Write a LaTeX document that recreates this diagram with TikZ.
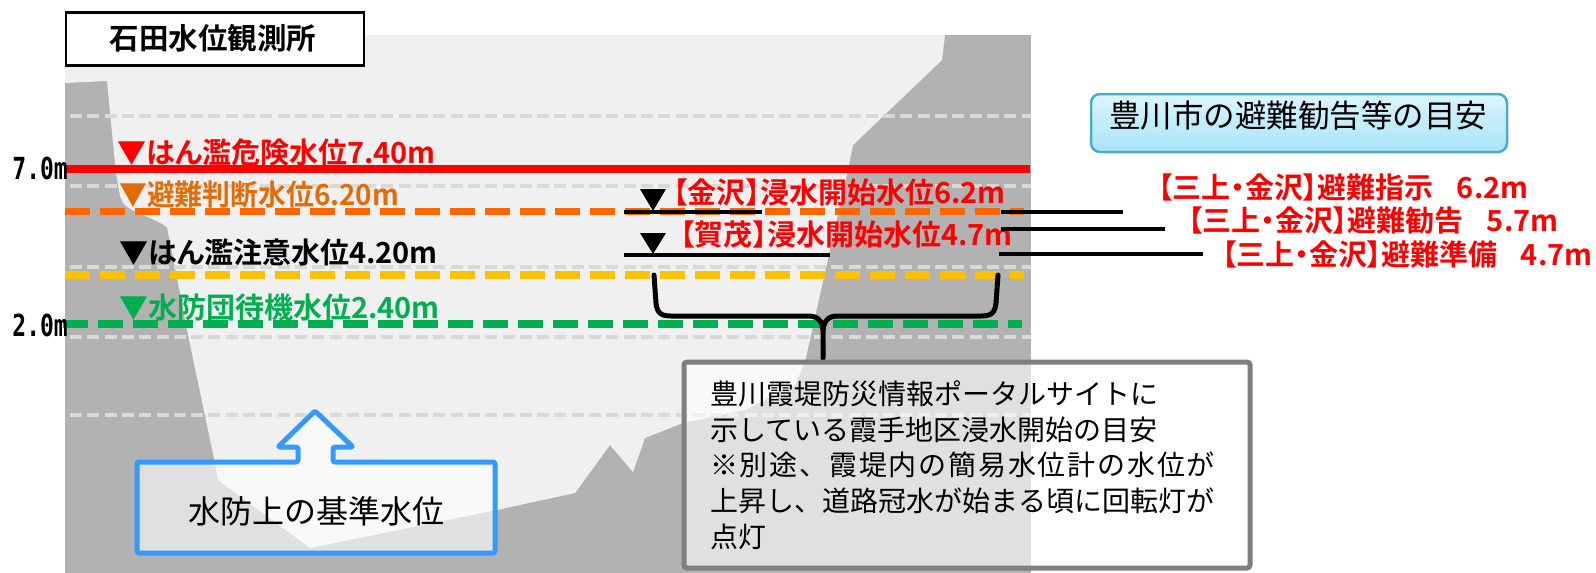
\documentclass[tikz,border=0pt]{standalone}
\usepackage{fontspec}
\newfontfamily\jpreg{Noto Sans CJK JP}
\newfontfamily\jpwide[LetterSpace=6.4]{Noto Sans CJK JP}
\newfontfamily\jpbold[RawFeature=+palt]{Noto Sans CJK JP Bold}
\newfontfamily\monofont{DejaVu Sans Mono Bold}
\definecolor{bankgray}{HTML}{B2B2B2}
\definecolor{watergray}{HTML}{F0F0F0}
\definecolor{guidegray}{HTML}{D9D9D9}
\definecolor{lvlred}{HTML}{FF0000}
\definecolor{lvlorange}{HTML}{FF6600}
\definecolor{txtorange}{HTML}{E36C09}
\definecolor{lvlyellow}{HTML}{FFC000}
\definecolor{lvlgreen}{HTML}{00B050}
\definecolor{calloutblue}{HTML}{3399FF}
\definecolor{notegray}{HTML}{7F7F7F}
\definecolor{tagborder}{HTML}{4BACC6}
\definecolor{tagtop}{HTML}{DCF5FC}
\definecolor{tagbottom}{HTML}{A8E4F7}
\begin{document}
\begin{tikzpicture}[x=1pt,y=-1pt,
  lvl/.style={line width=7.5pt, dash pattern=on 25pt off 10pt},
  guide/.style={draw=guidegray, line width=4pt, dash pattern=on 12pt off 5.3pt},
  lbl/.style={inner sep=0pt, anchor=base west, font=\jpbold\fontsize{29}{34}\selectfont},
  leader/.style={line width=4.5pt},
  axislbl/.style={inner sep=0pt, anchor=east, font=\monofont\fontsize{23}{28}\selectfont},
  notetxt/.style={inner sep=0pt, anchor=base west, font=\jpreg\fontsize{28}{34}\selectfont},
  marker/.style={fill=black}]
\useasboundingbox (0,0) rectangle (1596,573);

% river cross-section: banks and channel
\fill[bankgray] (65,35) rectangle (1031,573);
\fill[watergray] (65,35) -- (945,35) -- (942,60) -- (853,145) -- (849,165)
  -- (805,362) -- (795,385) -- (745,410) -- (683,423) -- (645,438) -- (633,472)
  -- (610,445) -- (575,493) -- (497,510) -- (310,548) -- (218,480) -- (215,463)
  -- (187,330) -- (180,293) -- (167,227)
  .. controls (150,216) and (130,212) .. (123,203)
  -- (120,196) -- (116,173) -- (107,81) -- (65,83) -- cycle;

% scale grid
\foreach \gy in {116,186,267,337,415} \draw[guide] (70,\gy) -- (1031,\gy);

% reference levels
\draw[lvlred, line width=8pt] (65,169) -- (1030,169);
\draw[lvl, lvlorange] (65,211.5) -- (1024,211.5);
\draw[lvl, lvlyellow] (65,275) -- (1024,275);
\draw[lvl, lvlgreen] (63,324) -- (1022,324);

\node[axislbl] (ax7) at (68,168) {\scalebox{1}[1.32]{7.0m}};
\node[axislbl] (ax2) at (68,325) {\scalebox{1}[1.32]{2.0m}};

\node[lbl, text=lvlred] (danger) at (117,163) {▼はん濫危険水位7.40m};
\node[lbl, text=txtorange] (judge) at (119,205) {\scalebox{0.96}[1]{▼避難判断水位6.20m}};
\node[lbl, text=black] (caution) at (119,263) {▼はん濫注意水位4.20m};
\node[lbl, text=lvlgreen] (standby) at (119,318) {▼水防団待機水位2.40m};

% title
\node[draw=black, line width=2.5pt, fill=white, minimum width=298pt, minimum height=53pt,
  inner sep=0pt] (titlebox) at (215,39) {};
\node[inner sep=0pt, font=\jpbold\fontsize{29.5}{34}\selectfont] (title) at (213,38) {石田水位観測所};

% flooding thresholds of the levee areas
\fill[marker] (640,189) -- (666,189) -- (653,211) -- cycle;
\fill[marker] (640,233) -- (666,233) -- (653,254) -- cycle;
\coordinate (kzL) at (624,212);
\coordinate (kzR) at (762,212);
\coordinate (kmL) at (624,255);
\coordinate (kmR) at (830,255);
\draw[leader] (kzL) -- (kzR);
\draw[leader] (kmL) -- (kmR);
\node[lbl, text=lvlred] (kanazawa) at (673,203) {【金沢】浸水開始水位6.2m};
\node[lbl, text=lvlred] (kamo) at (680,245) {【賀茂】浸水開始水位4.7m};

% city evacuation guidance
\node[draw=tagborder, line width=2.5pt, rounded corners=9pt, top color=tagtop, bottom color=tagbottom,
  minimum width=416pt, minimum height=58pt, inner sep=0pt] (tagbox) at (1299,123) {};
\node[inner sep=0pt, font=\jpreg\fontsize{31.5}{36}\selectfont] (tag) at (1298,116) {豊川市の避難勧告等の目安};

\node[lbl, text=lvlred] (order) at (1158,198) {【三上・金沢】避難指示\hspace{0.8em}6.2m};
\node[lbl, text=lvlred] (advice) at (1188,231) {【三上・金沢】避難勧告\hspace{0.8em}5.7m};
\node[lbl, text=lvlred] (prepare) at (1222,265) {【三上・金沢】避難準備\hspace{0.8em}4.7m};
\coordinate (r1s) at (1001,212);
\coordinate (r1e) at (1123,212);
\coordinate (r2s) at (1001,229);
\coordinate (r2e) at (1165,229);
\coordinate (r3s) at (999,254);
\coordinate (r3e) at (1203,254);
\draw[leader] (r1s) -- (r1e);
\draw[leader] (r2s) -- (r2e);
\draw[leader] (r3s) -- (r3e);

% brace grouping the levee thresholds
\draw[line width=5pt, line cap=round, line join=round]
  (654,275) -- (656,303) .. controls (657,313) and (661,316) .. (671,316)
  -- (808,316) .. controls (817,316) and (822,320) .. (823,330) -- (823,358);
\draw[line width=5pt, line cap=round, line join=round]
  (998,275) -- (996,303) .. controls (995,313) and (991,316) .. (981,316)
  -- (838,316) .. controls (829,316) and (824,320) .. (823,330);

% flood-fighting reference callout
\draw[calloutblue, line width=5pt, fill=white, fill opacity=0.6, rounded corners=2pt, line join=round]
  (137,462) -- (298,462) -- (298,447) -- (278,447) -- (315,411) -- (353,447)
  -- (333,447) -- (333,462) -- (495,462) -- (495,553) -- (137,553) -- cycle;
\node[inner sep=0pt, font=\jpreg\fontsize{32}{38}\selectfont] (kijun) at (316,511) {水防上の基準水位};

% note box
\node[draw=notegray, line width=5pt, fill=white, fill opacity=0.6, text opacity=1, rounded corners=3pt,
  minimum width=566pt, minimum height=206pt, inner sep=0pt] (notebox) at (967,465) {};
\node[notetxt] (n1) at (710,404) {豊川霞堤防災情報ポータルサイトに};
\node[notetxt] (n2) at (710,440) {示している霞手地区浸水開始の目安};
\node[notetxt, font=\jpwide\fontsize{28}{34}\selectfont] (n3) at (710,475) {※別途、霞堤内の簡易水位計の水位が};
\node[notetxt] (n4) at (710,511) {上昇し、道路冠水が始まる頃に回転灯が};
\node[notetxt] (n5) at (710,547) {点灯};
\end{tikzpicture}
\end{document}
